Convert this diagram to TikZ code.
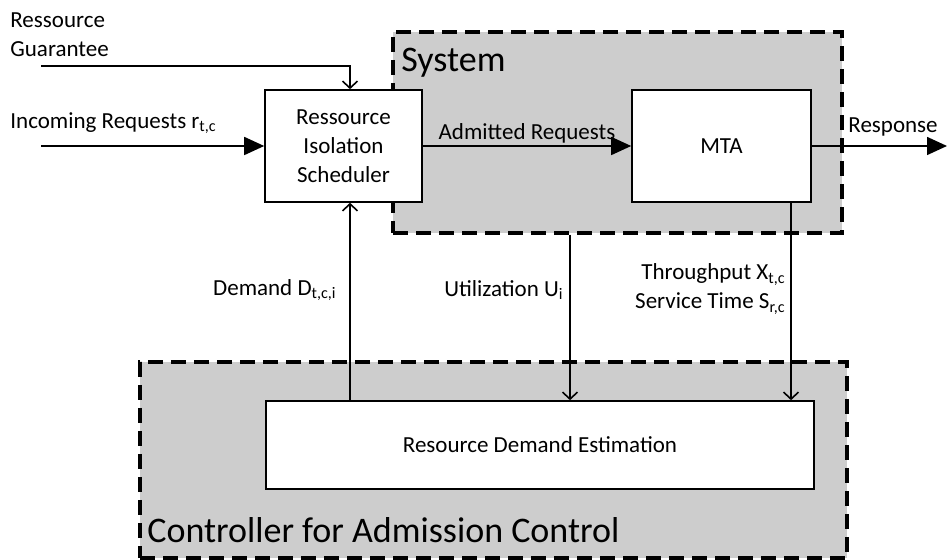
\documentclass[tikz,border=0pt]{standalone}
\usepackage{fontspec}
\setmainfont{Carlito}
\usetikzlibrary{arrows.meta}

\definecolor{groupgray}{RGB}{205,205,205}

\tikzset{
  block/.style={draw, line width=0.8pt, fill=white, align=center, inner sep=0pt,
    font=\fontsize{11.5}{14.5}\selectfont},
  group/.style={draw, line width=1.6pt, dash pattern=on 7.5pt off 4pt,
    fill=groupgray, inner sep=0pt},
  sig/.style={line width=0.8pt, -{Straight Barb[length=3.5pt,width=7.5pt]}},
  flow/.style={line width=0.8pt, -{Triangle[length=10pt,width=9pt]}},
  lbl/.style={inner sep=0pt, font=\fontsize{11.5}{14.5}\selectfont},
  biglbl/.style={inner sep=0pt, font=\fontsize{18}{22}\selectfont}
}

\begin{document}
\begin{tikzpicture}[x=0.5pt, y=-0.5pt]
    \useasboundingbox (0,0) rectangle (948,560);

    % The system and the controller
    \node[group, minimum width=224.5pt, minimum height=100.5pt] (system) at (617.5,132.5) {};
    \node[biglbl, anchor=west] (systemlbl) at (401,63) {System};
    \node[group, minimum width=353.5pt, minimum height=98pt] (ctrl) at (493.5,460) {};
    \node[biglbl, anchor=west] (ctrllbl) at (147,530) {Controller for Admission Control};

    % Blocks
    \node[block, minimum width=78.5pt, minimum height=56pt] (sched) at (343.5,146) {Ressource\\Isolation\\Scheduler};
    \node[block, minimum width=89.5pt, minimum height=56pt] (mta) at (721.5,146) {MTA};
    \node[block, minimum width=274pt, minimum height=44pt] (rde) at (540,445) {Resource Demand Estimation};

    % Inputs
    \coordinate (guarIn) at (41,66);
    \coordinate (reqIn) at (41,146);
    \node[lbl, anchor=west, align=left] (guarlbl) at (10,35) {Ressource\\Guarantee};
    \node[lbl, anchor=west] (reqlbl) at (10,123) {Incoming Requests r\textsubscript{t,c}};
    \draw[sig] (guarIn) -| ([xshift=3.25pt]sched.north);
    \draw[flow] (reqIn) -- (sched.west);

    % Through the system
    \draw[flow] (sched.east) -- node[lbl, above=1pt] (admlbl) {Admitted Requests} (mta.west);
    \coordinate (respOut) at (947,146);
    \draw[flow] (mta.east) -- (respOut);
    \node[lbl, anchor=base west] (resplbl) at (848,133) {Response};

    % Feedback
    \draw[sig] ([xshift=3.25pt]sched.south |- rde.north) -- ([xshift=3.25pt]sched.south);
    \draw[sig] ([xshift=-23.75pt]system.south) -- ([xshift=-23.75pt]system.south |- rde.north);
    \draw[sig] ([xshift=34.75pt]mta.south) -- ([xshift=34.75pt]mta.south |- rde.north);
    \node[lbl, anchor=east] (demlbl) at (337,290) {Demand D\textsubscript{t,c,i}};
    \node[lbl, anchor=east] (utillbl) at (564,290) {Utilization U\textsubscript{i}};
    \node[lbl, anchor=east, align=right] (thrlbl) at (786,289) {Throughput X\textsubscript{t,c}\\Service Time S\textsubscript{r,c}};
\end{tikzpicture}
\end{document}
